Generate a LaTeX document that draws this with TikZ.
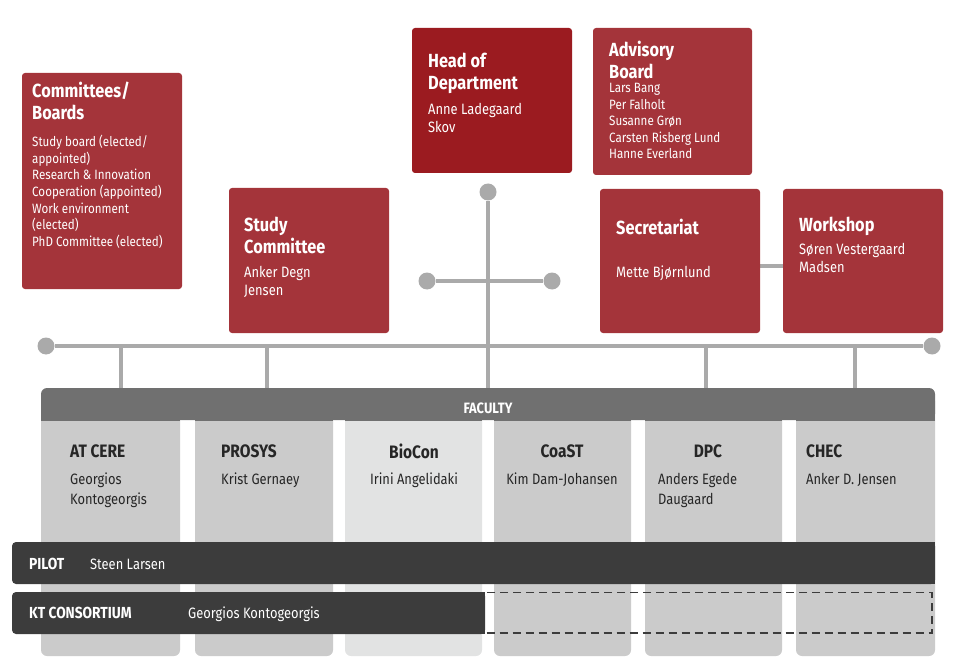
\documentclass[tikz,border=0pt]{standalone}
\usepackage{fontspec}
\setmainfont{Fira Sans}[FakeStretch=0.86]
\begin{document}
\begin{tikzpicture}[x=1pt,y=-1pt,
  red/.style={fill=rd,rounded corners=3pt},
  ttl/.style={anchor=north west,align=left,font=\bfseries\fontsize{19}{22}\selectfont,text=white,inner sep=0},
  txt/.style={anchor=north west,align=left,font=\fontsize{15}{18}\selectfont,text=white,inner sep=0},
  sm/.style={anchor=north west,align=left,font=\fontsize{13.5}{16.6}\selectfont,text=white,inner sep=0},
  ln/.style={draw=lg,line width=4pt},
  dot/.style={circle,fill=lg,minimum size=17pt,inner sep=0},
  col/.style={fill=cg,rounded corners=6pt},
  ct/.style={font=\bfseries\fontsize{18}{21}\selectfont,inner sep=0,text=black!85},
  cn/.style={font=\fontsize{15}{20}\selectfont,inner sep=0,text=black!85,align=left}]
\definecolor{rd}{HTML}{A4343A}\definecolor{drd}{HTML}{9B1B20}
\definecolor{lg}{HTML}{AAAAAA}\definecolor{cg}{HTML}{CBCBCB}
\definecolor{cl}{HTML}{E2E3E3}\definecolor{fg}{HTML}{707070}\definecolor{dk}{HTML}{3C3C3C}
\useasboundingbox (0,0) rectangle (960,668);
% connectors
\node[dot] (hd) at (488,192) {};
\node[dot] (bl) at (427,281) {}; \node[dot] (br) at (552,281) {};
\node[dot] (ml) at (46,346) {}; \node[dot] (mr) at (932,346) {};
\coordinate (fac) at (488,392);
\draw[ln] (hd) -- (fac); \draw[ln] (bl) -- (br); \draw[ln] (ml) -- (mr);
\foreach \x/\n in {121/a,267/b,706/c,855/d}{\coordinate (t\n) at (\x,346); \coordinate (f\n) at (\x,392); \draw[ln] (t\n) -- (f\n);}
% red boxes
\fill[red] (22,73) rectangle (182,289);
\node[ttl] (c1) at (32,82) {Committees/\\Boards};
\node[sm] (c2) at (32,135) {Study board (elected/\\appointed)\\Research \& Innovation\\Cooperation (appointed)\\Work environment\\(elected)\\PhD Committee (elected)};
\fill[red,fill=drd] (412,28) rectangle (572,173);
\node[ttl] (h1) at (428,53) {Head of\\Department};
\node[txt] (h2) at (428,103) {Anne Ladegaard\\Skov};
\fill[red] (593,28) rectangle (752,175);
\node[ttl] (a1) at (609,41) {Advisory\\Board};
\node[sm] (a2) at (609,83) {Lars Bang\\Per Falholt\\Susanne Grøn\\Carsten Risberg Lund\\Hanne Everland};
\fill[red] (229,188) rectangle (389,333);
\node[ttl] (s1) at (244,217) {Study\\Committee};
\node[txt] (s2) at (244,266) {Anker Degn\\Jensen};
\node[draw=none] (secr) at (760,266) {}; \node (work) at (783,266) {};
\draw[ln] (760,266) coordinate (sc) -- (783,266) coordinate (wk);
\fill[red] (600,189) rectangle (760,333);
\node[ttl] (se1) at (616,219) {Secretariat};
\node[txt] (se2) at (616,266) {Mette Bjørnlund};
\fill[red] (783,189) rectangle (943,333);
\node[ttl] (w1) at (799,217) {Workshop};
\node[txt] (w2) at (799,243) {Søren Vestergaard\\Madsen};
% columns
\foreach \a/\b in {41/180,195/333,494/631,645/782,796/935} \fill[col] (\a,395) rectangle (\b,656);
\fill[col,fill=cl] (345,395) rectangle (482,656);
\foreach \a/\b in {41/180,195/333,345/482,494/631,645/782,796/935} \fill[fg] (\a,420) rectangle (\b,421);
\fill[fg,rounded corners=6pt] (41,388) rectangle (935,420);
\fill[fg] (41,405) rectangle (935,420);
\node[font=\bfseries\fontsize{15}{18}\selectfont,text=white,inner sep=0] (facl) at (488,408) {FACULTY};
\node[ct,anchor=west] (k1) at (70,451) {AT CERE};
\node[cn,anchor=north west] (k1n) at (70,473) {Georgios\\Kontogeorgis};
\node[ct,anchor=west] (k2) at (221,451) {PROSYS};
\node[cn,anchor=north west] (k2n) at (221,473) {Krist Gernaey};
\node[ct] (k3) at (414,451) {BioCon};
\node[cn,anchor=north] (k3n) at (414,473) {Irini Angelidaki};
\node[ct] (k4) at (562,451) {CoaST};
\node[cn,anchor=north] (k4n) at (562,473) {Kim Dam-Johansen};
\node[ct] (k5) at (708,451) {DPC};
\node[cn,anchor=north west] (k5n) at (658,473) {Anders Egede\\Daugaard};
\node[ct,anchor=west] (k6) at (806,451) {CHEC};
\node[cn,anchor=north west] (k6n) at (806,473) {Anker D. Jensen};
% bars
\fill[dk,rounded corners=4pt] (12,542) rectangle (935,584);
\fill[dk] (900,542) rectangle (935,584);
\node[anchor=west,inner sep=0,text=white,font=\bfseries\fontsize{16}{19}\selectfont] (p1) at (29,564) {PILOT};
\node[anchor=west,inner sep=0,text=white,font=\fontsize{15}{18}\selectfont] (p2) at (90,564) {Steen Larsen};
\draw[dk,line width=1.3pt,dash pattern=on 8pt off 5pt] (345,592.5) rectangle (932,633);
\fill[dk,rounded corners=4pt] (12,592) rectangle (485,634);
\fill[dk] (460,592) rectangle (485,634);
\node[anchor=west,inner sep=0,text=white,font=\bfseries\fontsize{16}{19}\selectfont] (kt1) at (29,613) {KT CONSORTIUM};
\node[anchor=west,inner sep=0,text=white,font=\fontsize{15}{18}\selectfont] (kt2) at (188,614) {Georgios Kontogeorgis};
\end{tikzpicture}
\end{document}
